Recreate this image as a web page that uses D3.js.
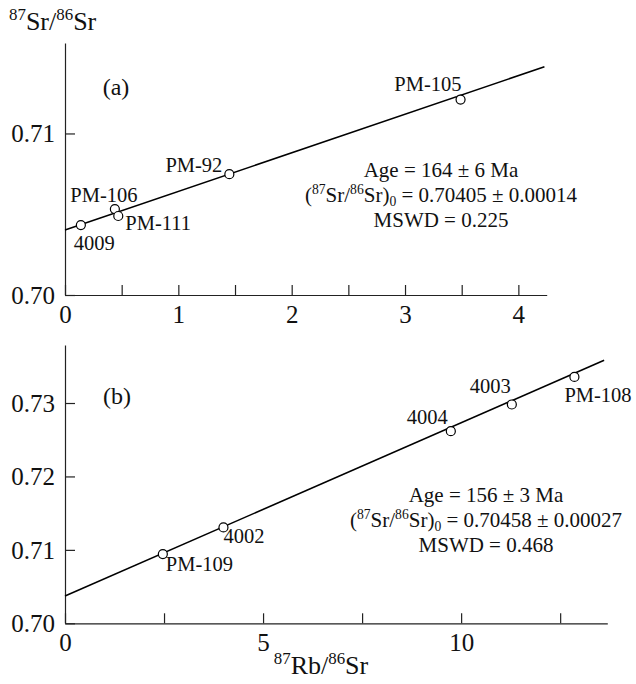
<!DOCTYPE html>
<html>
<head>
<meta charset="utf-8">
<script src="https://cdn.jsdelivr.net/npm/d3@7"></script>
<style>
  body { margin: 0; background: #fff; }
  svg text { font-family: "Liberation Serif", "Times New Roman", serif; fill: #111; }
  .axis path, .axis line { stroke: #222; stroke-width: 1.2; }
  .axis text { font-size: 25px; }
  .ptlabel { font-size: 20.5px; }
</style>
</head>
<body>
<div id="chart"></div>
<script>
////////////////
// Data       //
////////////////

// Panel (a)
var samplesA = ["4009", "PM-106", "PM-111", "PM-92", "PM-105"];
var rbSrA = [0.14, 0.44, 0.47, 1.45, 3.49];
var srSrA = [0.70433, 0.70532, 0.70489, 0.70748, 0.71210];
var fitRbA = [0, 4.23];
var fitSrA = [0.70402, 0.71413];
var xTicksA = [0, 0.5, 1, 1.5, 2, 2.5, 3, 3.5, 4];
var xLabelsA = [0, 1, 2, 3, 4];
var yTicksA = [0.70, 0.71];
var statsA = ["164 ± 6", "0.70405 ± 0.00014", "0.225"];

// Panel (b)
var samplesB = ["PM-109", "4002", "4004", "4003", "PM-108"];
var rbSrB = [2.47, 4.0, 9.74, 11.28, 12.86];
var srSrB = [0.70943, 0.71306, 0.72616, 0.72980, 0.73355];
var fitRbB = [0, 13.61];
var fitSrB = [0.70371, 0.73583];
var xTicksB = [0, 2.5, 5, 7.5, 10, 12.5];
var xLabelsB = [0, 5, 10];
var yTicksB = [0.70, 0.71, 0.72, 0.73];
var statsB = ["156 ± 3", "0.70458 ± 0.00027", "0.468"];

////////////////
// Layout     //
////////////////
var width = 636, height = 684;

var svg = d3.select("#chart").append("svg")
    .attr("width", width)
    .attr("height", height);

// label placement relative to point: [dx, dy, anchor]
var labelPos = {
  "4009":   [-7, 25, "start"],
  "PM-106": [-11, -7, "middle"],
  "PM-111": [7, 14, "start"],
  "PM-92":  [-7, -2, "end"],
  "PM-105": [1, -9, "end"],
  "PM-109": [3, 17, "start"],
  "4002":   [0, 16, "start"],
  "4004":   [-3, -7, "end"],
  "4003":   [-1, -11, "end"],
  "PM-108": [-10, 25, "start"]
};

// superscript / subscript helper, shifts in px of font size f
function richText(sel, f, parts) {
  var shift = 0;
  parts.forEach(function(p) {
    var t = sel.append("tspan").text(p.t);
    var target = p.sup ? -0.4 * f : (p.sub ? 0.2 * f : 0);
    if (target !== shift) t.attr("dy", target - shift);
    shift = target;
    if (p.sup || p.sub) t.style("font-size", (0.65 * f) + "px");
  });
}

function panel(opt) {
  var xScale = d3.scaleLinear().domain(opt.xDomain).range([opt.left, opt.right]);
  var yScale = d3.scaleLinear().domain(opt.yDomain).range([opt.bottom, opt.top]);

  var g = svg.append("g");

  // x axis
  var xAxis = d3.axisBottom(xScale)
      .tickValues(opt.xTicks)
      .tickSize(-10)
      .tickSizeOuter(0)
      .tickFormat(function(d) { return opt.xLabels.indexOf(d) >= 0 ? d3.format("d")(d) : ""; });

  var gx = g.append("g")
      .attr("class", "axis")
      .attr("transform", "translate(0," + opt.bottom + ")")
      .call(xAxis);
  gx.selectAll("text").attr("y", 28).attr("dy", 0);

  // y axis
  var yAxis = d3.axisLeft(yScale)
      .tickValues(opt.yTicks)
      .tickSize(-10)
      .tickSizeOuter(0)
      .tickFormat(d3.format(".2f"));

  var gy = g.append("g")
      .attr("class", "axis")
      .attr("transform", "translate(" + opt.left + ",0)")
      .call(yAxis);
  gy.selectAll("text").attr("x", -10).attr("dy", "0.34em");

  // fit line
  var line = d3.line()
      .x(function(d) { return xScale(d[0]); })
      .y(function(d) { return yScale(d[1]); });

  g.append("path")
      .datum(d3.zip(opt.fitX, opt.fitY))
      .attr("d", line)
      .attr("fill", "none")
      .attr("stroke", "#000")
      .attr("stroke-width", 1.6);

  // points
  var pts = d3.zip(opt.names, opt.xs, opt.ys);
  g.selectAll("circle")
      .data(pts)
      .enter()
      .append("circle")
      .attr("cx", function(d) { return xScale(d[1]); })
      .attr("cy", function(d) { return yScale(d[2]); })
      .attr("r", 4.5)
      .attr("fill", "#fff")
      .attr("stroke", "#000")
      .attr("stroke-width", 1.2);

  g.selectAll(".ptlabel")
      .data(pts)
      .enter()
      .append("text")
      .attr("class", "ptlabel")
      .attr("x", function(d) { return xScale(d[1]) + labelPos[d[0]][0]; })
      .attr("y", function(d) { return yScale(d[2]) + labelPos[d[0]][1]; })
      .attr("text-anchor", function(d) { return labelPos[d[0]][2]; })
      .text(function(d) { return d[0]; });

  // panel letter
  g.append("text")
      .attr("x", opt.letterX)
      .attr("y", opt.letterY)
      .attr("text-anchor", "middle")
      .style("font-size", "24px")
      .text(opt.letter);

  // statistics block
  var fs = 21;
  g.append("text")
      .attr("x", opt.statsX)
      .attr("y", opt.statsY)
      .attr("text-anchor", "middle")
      .style("font-size", fs + "px")
      .text("Age = " + opt.stats[0] + " Ma");

  var l2 = g.append("text")
      .attr("x", opt.statsX)
      .attr("y", opt.statsY + 25)
      .attr("text-anchor", "middle")
      .style("font-size", fs + "px");
  richText(l2, fs, [
    {t: "("},
    {t: "87", sup: true},
    {t: "Sr/"},
    {t: "86", sup: true},
    {t: "Sr)"},
    {t: "0", sub: true},
    {t: " = " + opt.stats[1]}
  ]);

  g.append("text")
      .attr("x", opt.statsX)
      .attr("y", opt.statsY + 50)
      .attr("text-anchor", "middle")
      .style("font-size", fs + "px")
      .text("MSWD = " + opt.stats[2]);
}

panel({
  left: 65, right: 546.7, top: 43, bottom: 295,
  xDomain: [0, 4.25], yDomain: [0.70, 0.7156],
  xTicks: xTicksA, xLabels: xLabelsA, yTicks: yTicksA,
  fitX: fitRbA, fitY: fitSrA,
  names: samplesA, xs: rbSrA, ys: srSrA,
  letter: "(a)", letterX: 116, letterY: 95,
  stats: statsA, statsX: 441, statsY: 177
});

panel({
  left: 65, right: 607.3, top: 345, bottom: 623.3,
  xDomain: [0, 13.69], yDomain: [0.70, 0.7379],
  xTicks: xTicksB, xLabels: xLabelsB, yTicks: yTicksB,
  fitX: fitRbB, fitY: fitSrB,
  names: samplesB, xs: rbSrB, ys: srSrB,
  letter: "(b)", letterX: 117, letterY: 404,
  stats: statsB, statsX: 486, statsY: 502
});

// axis titles
var yTitle = svg.append("text")
    .attr("x", 9)
    .attr("y", 30)
    .style("font-size", "26px");
richText(yTitle, 26, [
  {t: "87", sup: true},
  {t: "Sr/"},
  {t: "86", sup: true},
  {t: "Sr"}
]);

var xTitle = svg.append("text")
    .attr("x", 321)
    .attr("y", 674)
    .attr("text-anchor", "middle")
    .style("font-size", "26px");
richText(xTitle, 26, [
  {t: "87", sup: true},
  {t: "Rb/"},
  {t: "86", sup: true},
  {t: "Sr"}
]);
</script>
</body>
</html>
